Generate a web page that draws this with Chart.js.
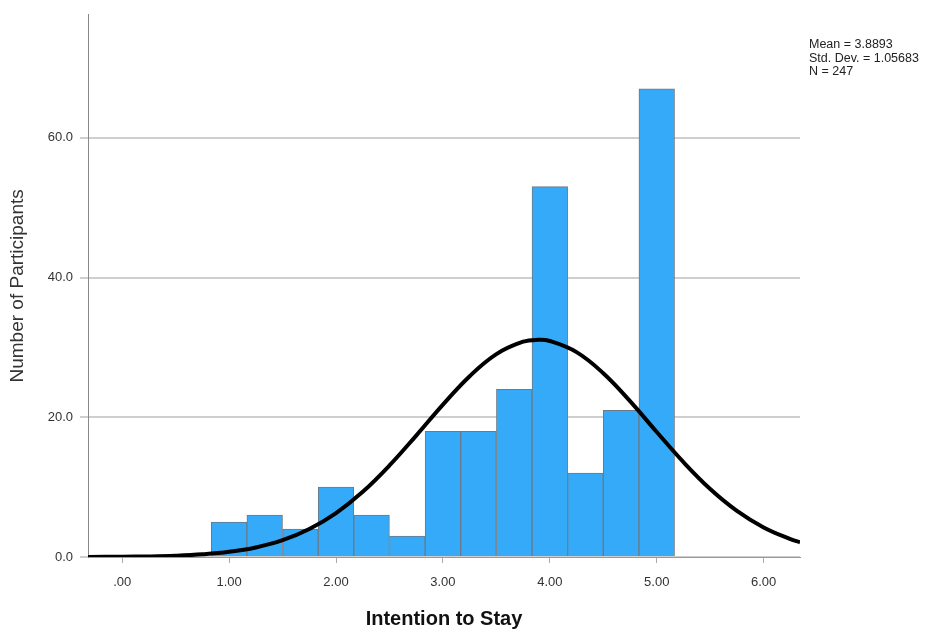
<!DOCTYPE html>
<html>
<head>
<meta charset="utf-8">
<script src="https://cdn.jsdelivr.net/npm/chart.js@4.4.1/dist/chart.umd.min.js"></script>
<style>
  body { margin: 0; background: #fff; }
  #wrap { position: relative; width: 934px; height: 633px; }
  #stats {
    position: absolute; left: 809px; top: 38px;
    font: 12.5px "Liberation Sans", Arial, sans-serif; line-height: 13.5px; color: #222;
  }
</style>
</head>
<body>
<div id="wrap">
  <canvas id="histChart" width="934" height="633"></canvas>
  <div id="stats">Mean = 3.8893<br>Std. Dev. = 1.05683<br>N = 247</div>
</div>
<script>
// histogram bins (centre of each 1/3-wide bin) and counts
const binCenters = [1.0, 1.333, 1.667, 2.0, 2.333, 2.667, 3.0, 3.333, 3.667, 4.0, 4.333, 4.667, 5.0];
const counts = [5, 6, 4, 10, 6, 3, 18, 18, 24, 53, 12, 21, 67];

// normal curve
const curveX = [-0.32, 0, 0.25, 0.5, 0.75, 1.0, 1.25, 1.5, 1.75, 2.0, 2.25, 2.5, 2.75, 3.0, 3.25, 3.5, 3.75, 3.89,
  4.0, 4.25, 4.5, 4.75, 5.0, 5.25, 5.5, 5.75, 6.0, 6.25, 6.34];
const curveY = [0.01, 0.04, 0.08, 0.18, 0.38, 0.74, 1.37, 2.41, 4.01, 6.29, 9.33, 13.1, 17.38, 21.81, 25.88, 29.04, 30.81, 31.08,
  30.91, 29.32, 26.3, 22.31, 17.89, 13.57, 9.73, 6.6, 4.23, 2.56, 2.11];

const xTicks = [0, 1, 2, 3, 4, 5, 6];
const yTicks = [0, 20, 40, 60];

const ctx = document.getElementById("histChart");
new Chart(ctx, {
  type: "bar",
  data: {
    datasets: [
      {
        type: "line",
        data: curveX.map((x, i) => ({ x: x, y: curveY[i] })),
        borderColor: "#000",
        borderWidth: 4,
        pointRadius: 0,
        tension: 0.4,
        order: 0,
      },
      {
        data: binCenters.map((x, i) => ({ x: x, y: counts[i] })),
        backgroundColor: "#35aaf8",
        borderColor: "#6b7a88",
        borderWidth: 1,
        barPercentage: 1,
        categoryPercentage: 1,
        order: 1,
      },
    ],
  },
  options: {
    responsive: false,
    animation: false,
    layout: { padding: { left: 0, right: 134, top: 10, bottom: 0 } },
    plugins: { legend: { display: false }, tooltip: { enabled: false } },
    scales: {
      x: {
        type: "linear",
        offset: false,
        min: -0.32,
        max: 6.34,
        afterBuildTicks: (axis) => { axis.ticks = xTicks.map((v) => ({ value: v })); },
        afterFit: (axis) => { axis.height = 76; },
        ticks: {
          color: "#333",
          font: { family: "Liberation Sans", size: 13 },
          padding: 12,
          maxRotation: 0,
          callback: (v) => (v === 0 ? ".00" : v.toFixed(2)),
        },
        grid: { offset: false, drawOnChartArea: false, color: "#aaa", tickLength: 6 },
        border: { color: "#999", width: 1 },
        title: {
          display: true,
          text: "Intention to Stay",
          color: "#111",
          font: { family: "Liberation Sans", size: 20, weight: "bold" },
          padding: { top: 4, bottom: 2 },
        },
      },
      y: {
        min: 0,
        max: 77.6,
        afterBuildTicks: (axis) => { axis.ticks = yTicks.map((v) => ({ value: v })); },
        afterFit: (axis) => { axis.width = 88; },
        ticks: {
          color: "#333",
          font: { family: "Liberation Sans", size: 13 },
          padding: 7,
          callback: (v) => v.toFixed(1),
        },
        grid: { color: "#cfcfcf", lineWidth: 2, tickLength: 8 },
        border: { color: "#888", width: 1 },
        title: {
          display: true,
          text: "Number of Participants",
          color: "#333",
          font: { family: "Liberation Sans", size: 19 },
          padding: { top: 6, bottom: 4 },
        },
      },
    },
  },
});
</script>
</body>
</html>
